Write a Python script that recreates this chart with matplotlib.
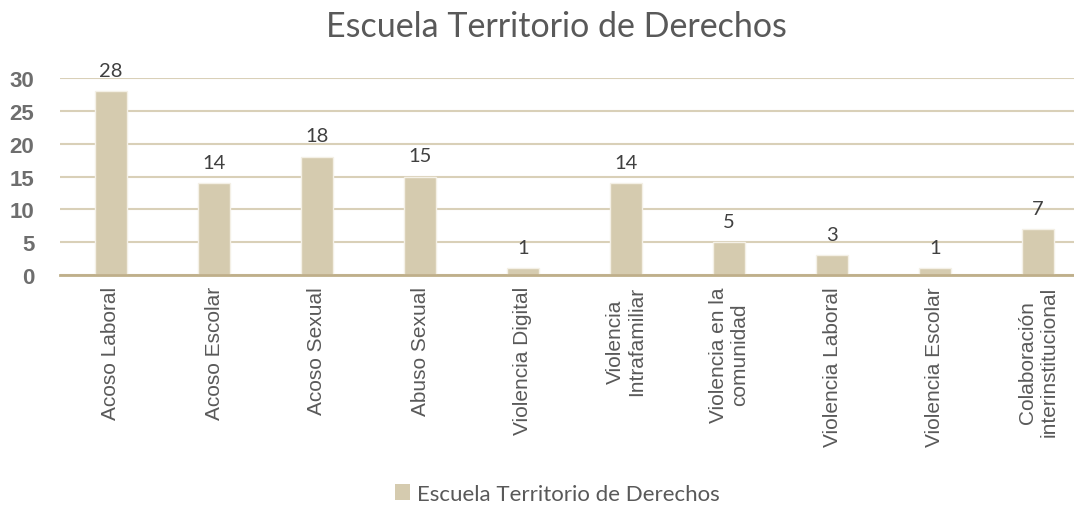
import matplotlib
matplotlib.use("Agg")
import matplotlib.pyplot as plt
from matplotlib.patches import Patch

categories = [
    "Acoso Laboral", "Acoso Escolar", "Acoso Sexual", "Abuso Sexual",
    "Violencia Digital", "Violencia\nIntrafamiliar", "Violencia en la\ncomunidad",
    "Violencia Laboral", "Violencia Escolar", "Colaboración\ninterinstitucional",
]
values = [28, 14, 18, 15, 1, 14, 5, 3, 1, 7]
series_name = "Escuela Territorio de Derechos"
yticks = [0, 5, 10, 15, 20, 25, 30]

bar_color = "#D5CBAF"
grid_color = "#D9D0B8"
axis_color = "#BFAF8A"
text_color = "#595959"

fig = plt.figure(figsize=(10.74, 5.06), dpi=100)
ax = fig.add_axes([59.5 / 1074, 230 / 506, 1030 / 1074, 197 / 506])

x = list(range(len(categories)))
bars = ax.bar(x, values, width=0.32, color=bar_color, edgecolor="#F4F0E6",
              linewidth=1.0, zorder=2)

ax.set_xlim(-0.5, len(categories) - 0.5)
ax.set_ylim(0, 30)
ax.set_yticks(yticks)
ax.yaxis.grid(True, color=grid_color, linewidth=1.5, zorder=0)
ax.set_axisbelow(True)
for s in ["top", "right", "left"]:
    ax.spines[s].set_visible(False)
ax.spines["bottom"].set_color(axis_color)
ax.spines["bottom"].set_linewidth(2)
ax.spines["bottom"].set_zorder(3)

ax.tick_params(axis="y", length=0, pad=18, labelsize=16, labelcolor="#6E6E6E")
for lbl in ax.get_yticklabels():
    lbl.set_fontweight("bold")
    lbl.set_fontfamily("Liberation Sans")

ax.set_xticks(x)
ax.set_xticklabels(categories, rotation=90, fontsize=15, color=text_color,
                   family="Liberation Sans", ha="center", va="top",
                   multialignment="center", linespacing=1.2)
ax.tick_params(axis="x", length=0, pad=8)

for xi, v in zip(x, values):
    ax.annotate(str(v), (xi, v), xytext=(0, 9), textcoords="offset points",
                ha="center", va="bottom", fontsize=14.5, color="#404040",
                family="Lato")

fig.text(0.518, 0.947, series_name, ha="center", va="center", fontsize=24.5,
         color=text_color, family="Lato")

fig.legend(handles=[Patch(facecolor=bar_color, edgecolor="none")],
           labels=[series_name], loc="center", bbox_to_anchor=(0.519, 0.022),
           frameon=False, prop={"family": "Lato", "size": 16},
           handlelength=0.7, handleheight=0.7, handletextpad=0.3,
           labelcolor=text_color)

fig.savefig("out.png", dpi=100)
